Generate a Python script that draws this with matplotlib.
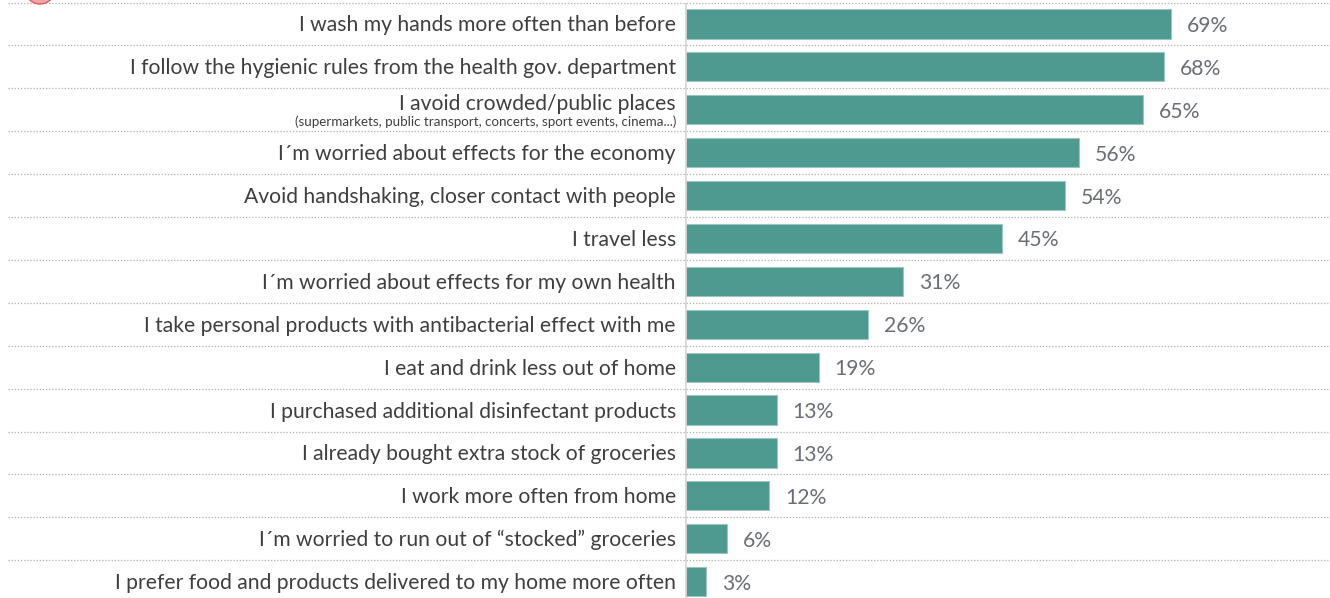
import matplotlib
matplotlib.use("Agg")
import matplotlib.pyplot as plt
from matplotlib.patches import Circle
from matplotlib.transforms import offset_copy, IdentityTransform

categories = [
    "I wash my hands more often than before",
    "I follow the hygienic rules from the health gov. department",
    "I avoid crowded/public places",
    "I\u00b4m worried about effects for the economy",
    "Avoid handshaking, closer contact with people",
    "I travel less",
    "I\u00b4m worried about effects for my own health",
    "I take personal products with antibacterial effect with me",
    "I eat and drink less out of home",
    "I purchased additional disinfectant products",
    "I already bought extra stock of groceries",
    "I work more often from home",
    "I\u00b4m worried to run out of \u201cstocked\u201d groceries",
    "I prefer food and products delivered to my home more often",
]
subtitles = {2: "(supermarkets, public transport, concerts, sport events, cinema...)"}
values = [69, 68, 65, 56, 54, 45, 31, 26, 19, 13, 13, 12, 6, 3]
value_labels = [f"{v}%" for v in values]

plt.rcParams['font.family'] = ['Lato', 'DejaVu Sans']

W, H = 1330, 598
fig = plt.figure(figsize=(W / 100, H / 100), dpi=100)
fig.patch.set_facecolor("white")

ax_left = 685 / W
top_px, row_h = 2.5, 42.9
n = len(categories)
bottom_px = top_px + n * row_h
ax = fig.add_axes([ax_left, 1 - bottom_px / H, 1 - ax_left, (bottom_px - top_px) / H])

ypos = list(range(n))
bar_color = "#4e9990"
ax.barh(ypos, values, height=0.68, color=bar_color, edgecolor="#9cc7c1", linewidth=0.8, zorder=3)
ax.set_xlim(0, (W - 685) / 7.04)
ax.set_ylim(n - 0.5, -0.5)
for s in ax.spines.values():
    s.set_visible(False)
ax.set_xticks([])
ax.set_yticks([])

# vertical axis line
ax.axvline(0, color="#d9d9d9", linewidth=2, zorder=4)

# dotted separators across full width
x_start = (8 - 685) / (W - 685)
for i in range(n):
    yb = i - 0.5
    ax.plot([x_start, 1.0], [yb, yb], transform=ax.get_yaxis_transform(),
            color="#b0b0b0", linewidth=0.9, linestyle=(0, (1, 1.5)), clip_on=False, zorder=1)

label_color = "#3f3f3f"
fs = 15.25
for i, (cat, v, vl) in enumerate(zip(categories, values, value_labels)):
    if i in subtitles:
        tr1 = offset_copy(ax.transData, fig=fig, x=-9, y=6, units='dots')
        tr2 = offset_copy(ax.transData, fig=fig, x=-9, y=-12, units='dots')
        ax.text(0, i, cat, transform=tr1, ha="right", va="center", fontsize=fs,
                color=label_color, clip_on=False)
        ax.text(0, i, subtitles[i], transform=tr2, ha="right", va="center", fontsize=9.6,
                color=label_color, clip_on=False)
    else:
        lab_tr = offset_copy(ax.transData, fig=fig, x=-9, y=-1.5, units='dots')
        ax.text(0, i, cat, transform=lab_tr, ha="right", va="center", fontsize=fs,
                color=label_color, clip_on=False)
    vtr = offset_copy(ax.transData, fig=fig, x=16, y=-2, units='dots')
    ax.text(v, i, vl, transform=vtr, ha="left", va="center", fontsize=fs,
            color="#6b6e75", clip_on=False)

# partial red logo at top left
logo = Circle((40, H + 11), 15, transform=IdentityTransform(),
              facecolor="#f4a3a6", edgecolor="#e05a60", linewidth=1.0)
fig.patches.append(logo)

fig.savefig("out.png", dpi=100, facecolor="white")
